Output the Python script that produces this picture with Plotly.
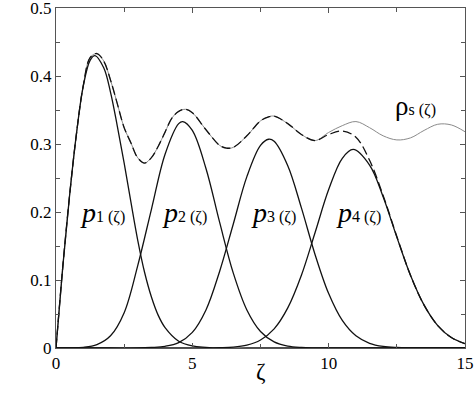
import plotly.graph_objects as go

# ---- data ----
z1 = [0, 0.25, 0.5, 0.75, 1.0, 1.25, 1.43, 1.75, 2.0, 2.25, 2.5, 2.75, 3.0, 3.25, 3.5, 3.75, 4.0, 4.5, 5.0, 5.5, 6.0, 7, 8, 9, 10, 11, 12, 13, 14, 15]
p1 = [0, 0.12, 0.225, 0.315, 0.385, 0.423, 0.430, 0.412, 0.376, 0.326, 0.272, 0.214, 0.158, 0.111, 0.075, 0.048, 0.03, 0.01, 0.003, 0.001, 0, 0, 0, 0, 0, 0, 0, 0, 0, 0]

z2 = [0, 0.5, 1.0, 1.5, 2.0, 2.5, 3.0, 3.5, 4.0, 4.5, 4.65, 5.0, 5.5, 6.0, 6.5, 7.0, 7.5, 8.0, 8.5, 9.0, 9.5, 10, 11, 12, 13, 14, 15]
p2 = [0, 0.0002, 0.001, 0.005, 0.018, 0.052, 0.1216, 0.204, 0.285, 0.330, 0.333, 0.320, 0.264, 0.185, 0.1105, 0.056, 0.0243, 0.0089, 0.0028, 0.0008, 0.0002, 0, 0, 0, 0, 0, 0]

z3 = [0, 1, 2, 3.0, 3.5, 4.0, 4.5, 5.0, 5.5, 6.0, 6.5, 7.0, 7.5, 7.8, 8.0, 8.5, 9.0, 9.5, 10.0, 10.5, 11.0, 11.5, 12.0, 12.5, 13.0, 14, 15]
p3 = [0, 0, 0, 0, 0.0008, 0.0025, 0.008, 0.023, 0.056, 0.1126, 0.182, 0.252, 0.298, 0.307, 0.304, 0.268, 0.206, 0.1376, 0.080, 0.0405, 0.0179, 0.0069, 0.0023, 0.0007, 0.0002, 0, 0]

z4 = [0, 2, 4, 5.5, 6.0, 6.5, 7.0, 7.5, 8.0, 8.5, 9.0, 9.5, 10.0, 10.5, 10.9, 11.5, 12.0, 12.5, 13.0, 13.5, 14.0, 14.5, 15.0]
p4 = [0, 0, 0, 0, 0.0004, 0.0013, 0.0043, 0.0118, 0.0282, 0.059, 0.107, 0.1695, 0.233, 0.279, 0.292, 0.269, 0.222, 0.163, 0.107, 0.063, 0.033, 0.0154, 0.0064]

z_sum = [0, 0.25, 0.5, 0.75, 1.0, 1.25, 1.5, 1.75, 2.0, 2.25, 2.5, 2.75, 3.0, 3.25, 3.5, 3.75, 4.0, 4.25, 4.5, 4.75, 5.0, 5.5, 6.0, 6.25, 6.5, 7.0, 7.5, 7.8, 8.0, 8.5, 9.0, 9.5, 10.0, 10.5, 11.0, 11.5, 12.0, 12.5, 13.0, 13.5, 14.0, 14.5, 15.0]
p_sum = [0, 0.12, 0.225, 0.315, 0.386, 0.427, 0.433, 0.422, 0.394, 0.359, 0.324, 0.3015, 0.2796, 0.272, 0.280, 0.2967, 0.3175, 0.338, 0.348, 0.351, 0.346, 0.321, 0.298, 0.294, 0.295, 0.312, 0.334, 0.340, 0.341, 0.330, 0.314, 0.305, 0.314, 0.319, 0.310, 0.276, 0.224, 0.164, 0.107, 0.063, 0.033, 0.0154, 0.0064]

z_rho = [0, 0.25, 0.5, 0.75, 1.0, 1.25, 1.5, 1.75, 2.0, 2.25, 2.5, 2.75, 3.0, 3.25, 3.5, 3.75, 4.0, 4.25, 4.5, 4.75, 5.0, 5.5, 6.0, 6.25, 6.5, 7.0, 7.5, 7.8, 8.0, 8.5, 9.0, 9.5, 10.0, 10.5, 11.0, 11.5, 12.0, 12.5, 13.0, 13.5, 14.0, 14.5, 15.0]
rho_s = [0, 0.12, 0.225, 0.315, 0.386, 0.427, 0.433, 0.422, 0.394, 0.359, 0.324, 0.3015, 0.2796, 0.272, 0.280, 0.2967, 0.3175, 0.338, 0.348, 0.351, 0.346, 0.321, 0.298, 0.294, 0.295, 0.312, 0.334, 0.340, 0.341, 0.330, 0.314, 0.305, 0.317, 0.327, 0.333, 0.324, 0.312, 0.306, 0.309, 0.320, 0.329, 0.328, 0.318]

x_ticks = [0, 5, 10, 15]
x_tick_text = ["0", "5", "10", "15"]
y_ticks = [0, 0.1, 0.2, 0.3, 0.4, 0.5]
y_tick_text = ["0", "0.1", "0.2", "0.3", "0.4", "0.5"]

FONT = "Liberation Serif"

fig = go.Figure()
fig.add_trace(go.Scatter(x=z_rho, y=rho_s, mode="lines", line=dict(color="#8a8a8a", width=1, shape="spline"), hoverinfo="skip"))
for zz, pp in [(z1, p1), (z2, p2), (z3, p3), (z4, p4)]:
    fig.add_trace(go.Scatter(x=zz, y=pp, mode="lines", line=dict(color="#111111", width=1.3, shape="spline"), hoverinfo="skip"))
fig.add_trace(go.Scatter(x=z_sum, y=p_sum, mode="lines", line=dict(color="#111111", width=1.3, shape="spline", dash="9px,4px"), hoverinfo="skip"))

axis_common = dict(showgrid=False, zeroline=False, showline=True, linecolor="#555555", linewidth=1,
                   mirror="ticks", ticks="inside", ticklen=5, tickcolor="#555555",
                   ticklabeloverflow="allow", automargin=False,
                   tickfont=dict(family=FONT, size=17, color="black"))
fig.update_xaxes(range=[0, 15], tickvals=x_ticks, ticktext=x_tick_text,
                 minor=dict(dtick=2.5, tick0=0, ticks="inside", ticklen=4, tickcolor="#555555"), **axis_common)
fig.update_yaxes(range=[0, 0.5], tickvals=y_ticks, ticktext=y_tick_text,
                 minor=dict(dtick=0.05, tick0=0, ticks="inside", ticklen=4, tickcolor="#555555"), **axis_common)

labels = [("1", 1.7), ("2", 4.73), ("3", 7.97), ("4", 11.08)]
for n, xc in labels:
    fig.add_annotation(x=xc, y=0.2, xref="x", yref="y", showarrow=False,
                       text=f"<i>p</i><span style='font-size:16px'>{n} (ζ)</span>",
                       font=dict(family=FONT, size=28, color="black"), xanchor="center", yanchor="middle")
fig.add_annotation(x=13.17, y=0.356, xref="x", yref="y", showarrow=False,
                   text="ρ<span style='font-size:16px'>s (ζ)</span>",
                   font=dict(family=FONT, size=27, color="black"), xanchor="center", yanchor="middle")
fig.add_annotation(x=0.5, y=-0.068, xref="paper", yref="paper", showarrow=False, text="ζ",
                   font=dict(family=FONT, size=23, color="black"), xanchor="center", yanchor="middle")

fig.update_layout(width=474, height=396, margin=dict(l=56, r=9, t=8, b=48),
                  paper_bgcolor="white", plot_bgcolor="white", showlegend=False)
fig.write_html("out.html", config={"displayModeBar": False, "staticPlot": True},
               post_script="document.body.style.margin='0';document.body.style.padding='0';")
